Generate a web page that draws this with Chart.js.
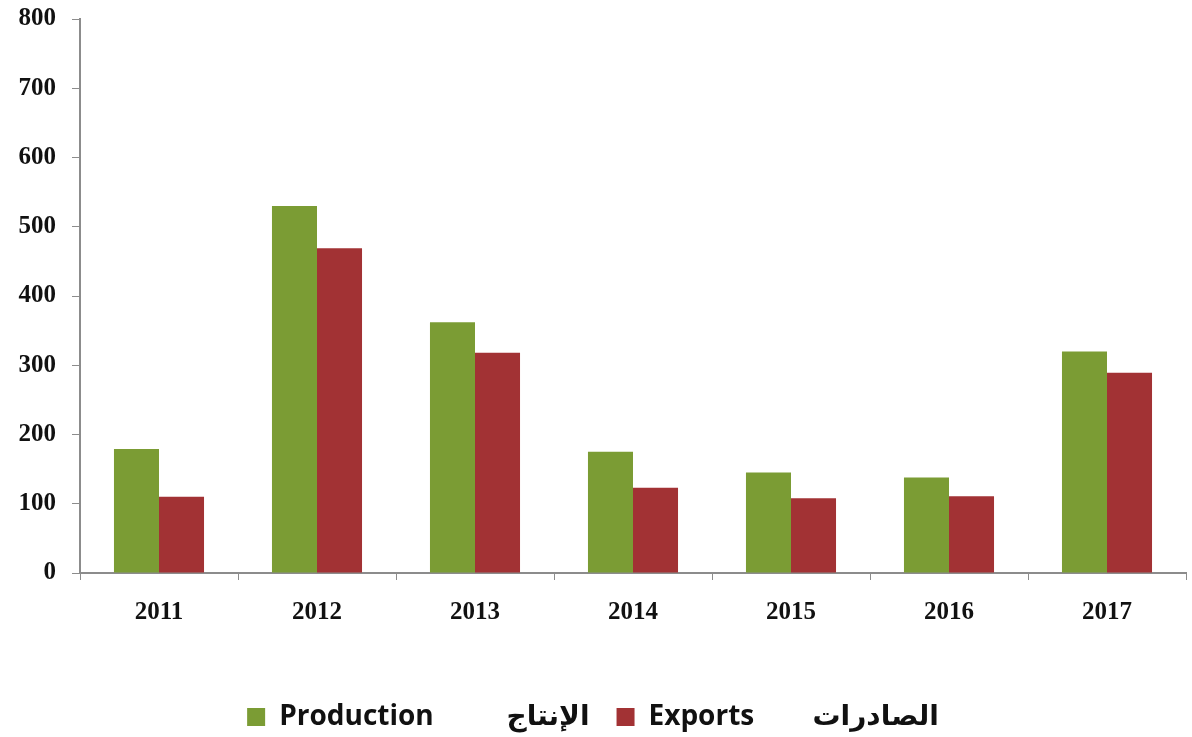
<!DOCTYPE html>
<html>
<head>
<meta charset="utf-8">
<script src="https://cdn.jsdelivr.net/npm/chart.js@4"></script>
<style>
  body { margin: 0; background: #fff; }
  #wrap { width: 1192px; height: 737px; }
</style>
</head>
<body>
<div id="wrap"><canvas id="prodChart"></canvas></div>
<script>
const years = ['2011', '2012', '2013', '2014', '2015', '2016', '2017'];
const production = [179, 530, 362, 175, 145, 138, 320];
const exportsData = [110, 469, 318, 123, 108, 111, 289];
const seriesLabels = ['Production          الإنتاج', 'Exports        الصادرات'];

const axisGrey = '#8c8c8c';

const ctx = document.getElementById('prodChart').getContext('2d');
new Chart(ctx, {
  type: 'bar',
  data: {
    labels: years,
    datasets: [
      { label: seriesLabels[0], data: production, backgroundColor: '#7b9c34' },
      { label: seriesLabels[1], data: exportsData, backgroundColor: '#a23234' }
    ]
  },
  options: {
    responsive: true,
    maintainAspectRatio: false,
    animation: false,
    categoryPercentage: 0.57,
    barPercentage: 1,
    layout: { padding: { top: 19, right: 6, left: 0, bottom: -4 } },
    plugins: {
      tooltip: { enabled: false },
      legend: {
        position: 'bottom',
        labels: {
          boxWidth: 18,
          boxHeight: 18,
          padding: 27,
          color: '#111',
          font: { family: "'Open Sans', 'DejaVu Sans', sans-serif", size: 28, weight: 'bold' }
        }
      }
    },
    scales: {
      x: {
        grid: { offset: true, drawOnChartArea: false, drawTicks: true, tickLength: 7, color: axisGrey },
        border: { color: axisGrey, width: 2 },
        ticks: {
          padding: 18,
          color: '#111',
          font: { family: "'Liberation Serif', serif", size: 25, weight: 'bold' }
        },
        afterFit: s => { s.height = 103; }
      },
      y: {
        min: 0,
        max: 800,
        grid: { drawOnChartArea: false, drawTicks: true, tickLength: 8, color: axisGrey },
        border: { color: axisGrey, width: 2 },
        ticks: {
          stepSize: 100,
          padding: 16,
          color: '#111',
          font: { family: "'Liberation Serif', serif", size: 25, weight: 'bold' }
        },
        afterFit: s => { s.width = 80; s.paddingTop = 0; s.paddingBottom = 0; }
      }
    }
  }
});
</script>
</body>
</html>
